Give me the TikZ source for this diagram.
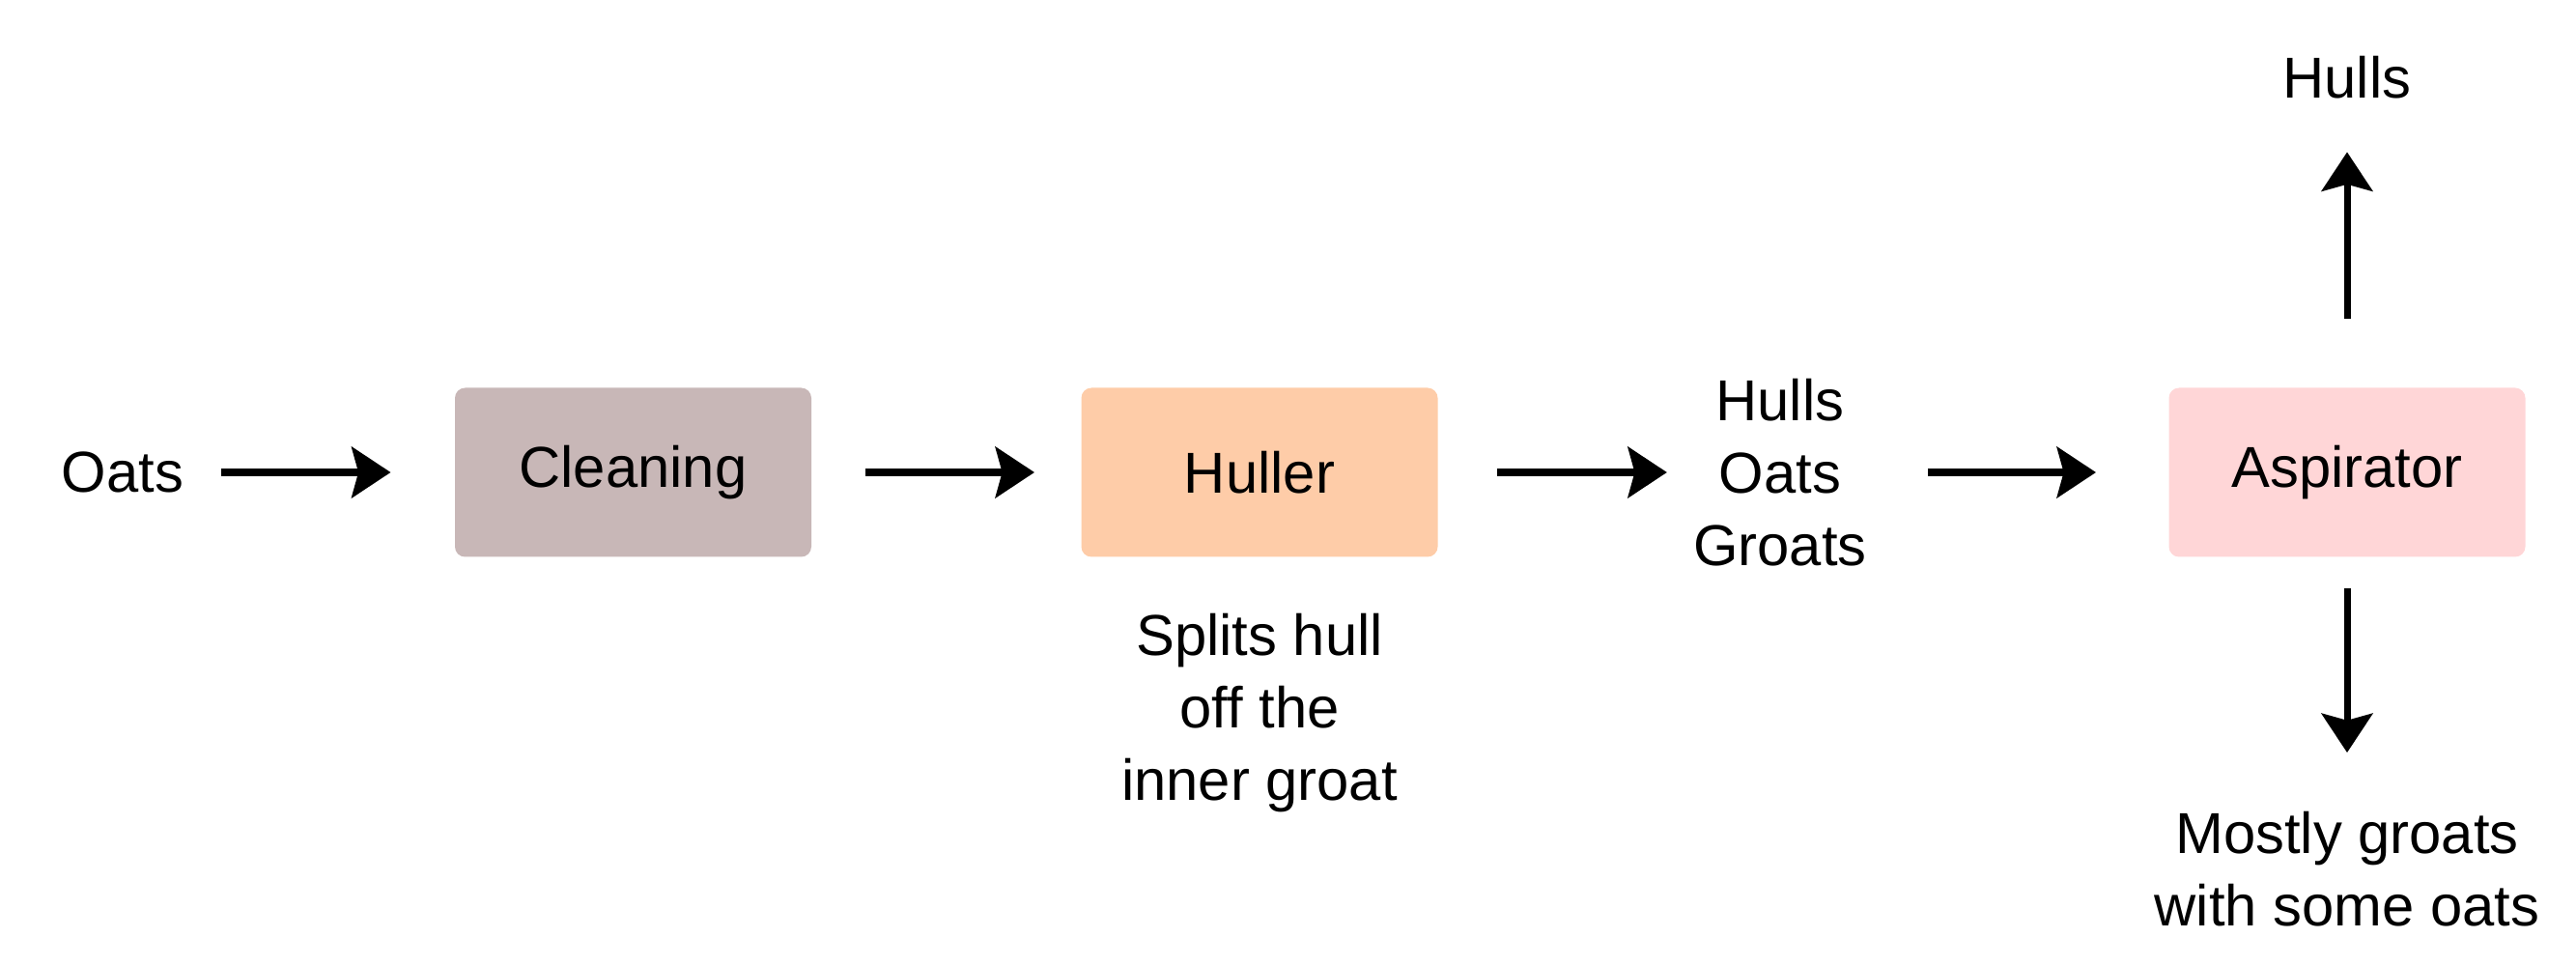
\documentclass[tikz,border=0pt]{standalone}
\usepackage{fontspec}
\setmainfont{Liberation Sans}
\usetikzlibrary{arrows.meta,positioning}
\definecolor{cleancol}{RGB}{200,183,183}
\definecolor{hullcol}{RGB}{254,204,168}
\definecolor{aspcol}{RGB}{255,214,215}
\tikzset{
    -{Stealth[length=11.5pt,width=15pt,inset=2pt]},
    unit/.style ={rectangle, rounded corners=3pt, minimum width=3.69cm, minimum height=1.75cm, font=\fontsize{17}{21.3}\selectfont},
    txt/.style = {inner sep=0pt, align=center, font=\fontsize{17}{21.3}\selectfont}
}
\begin{document}
\begin{tikzpicture}[line width=2pt]
 \useasboundingbox (0,0) rectangle (26.67,-10);
 \node[txt] (oats) at (1.27,-4.89) {Oats};
    \node[unit, fill=cleancol] (clean) at (6.555,-4.89) {Cleaning};
    \node[unit, fill=hullcol] (huller) at (13.04,-4.89) {Huller};
    \node[txt] (note) at (13.04,-7.38) {Splits hull\\off the\\inner groat};
    \node[txt] (mix) at (18.43,-4.89) {Hulls\\Oats\\Groats};
    \node[unit, fill=aspcol] (aspir) at (24.30,-4.89) {Aspirator};
    \node[txt] (hullsout) at (24.30,-0.80) {Hulls};
    \node[txt] (rest) at (24.30,-9.00) {Mostly groats\\with some oats};

    \path (oats) edge[shorten <=0.35cm, shorten >=0.63cm] (clean);
    \path (clean) edge[shorten <=0.52cm, shorten >=0.45cm] (huller);
     \path (huller) edge[shorten <=0.58cm, shorten >=0.24cm] (mix);
     \path (mix) edge[shorten <=0.60cm, shorten >=0.72cm] (aspir);
    \path (aspir) edge[shorten <=0.68cm, shorten >=0.52cm] (hullsout);
        \path (aspir) edge[shorten <=0.29cm, shorten >=0.58cm] (rest);
\end{tikzpicture}
\end{document}
